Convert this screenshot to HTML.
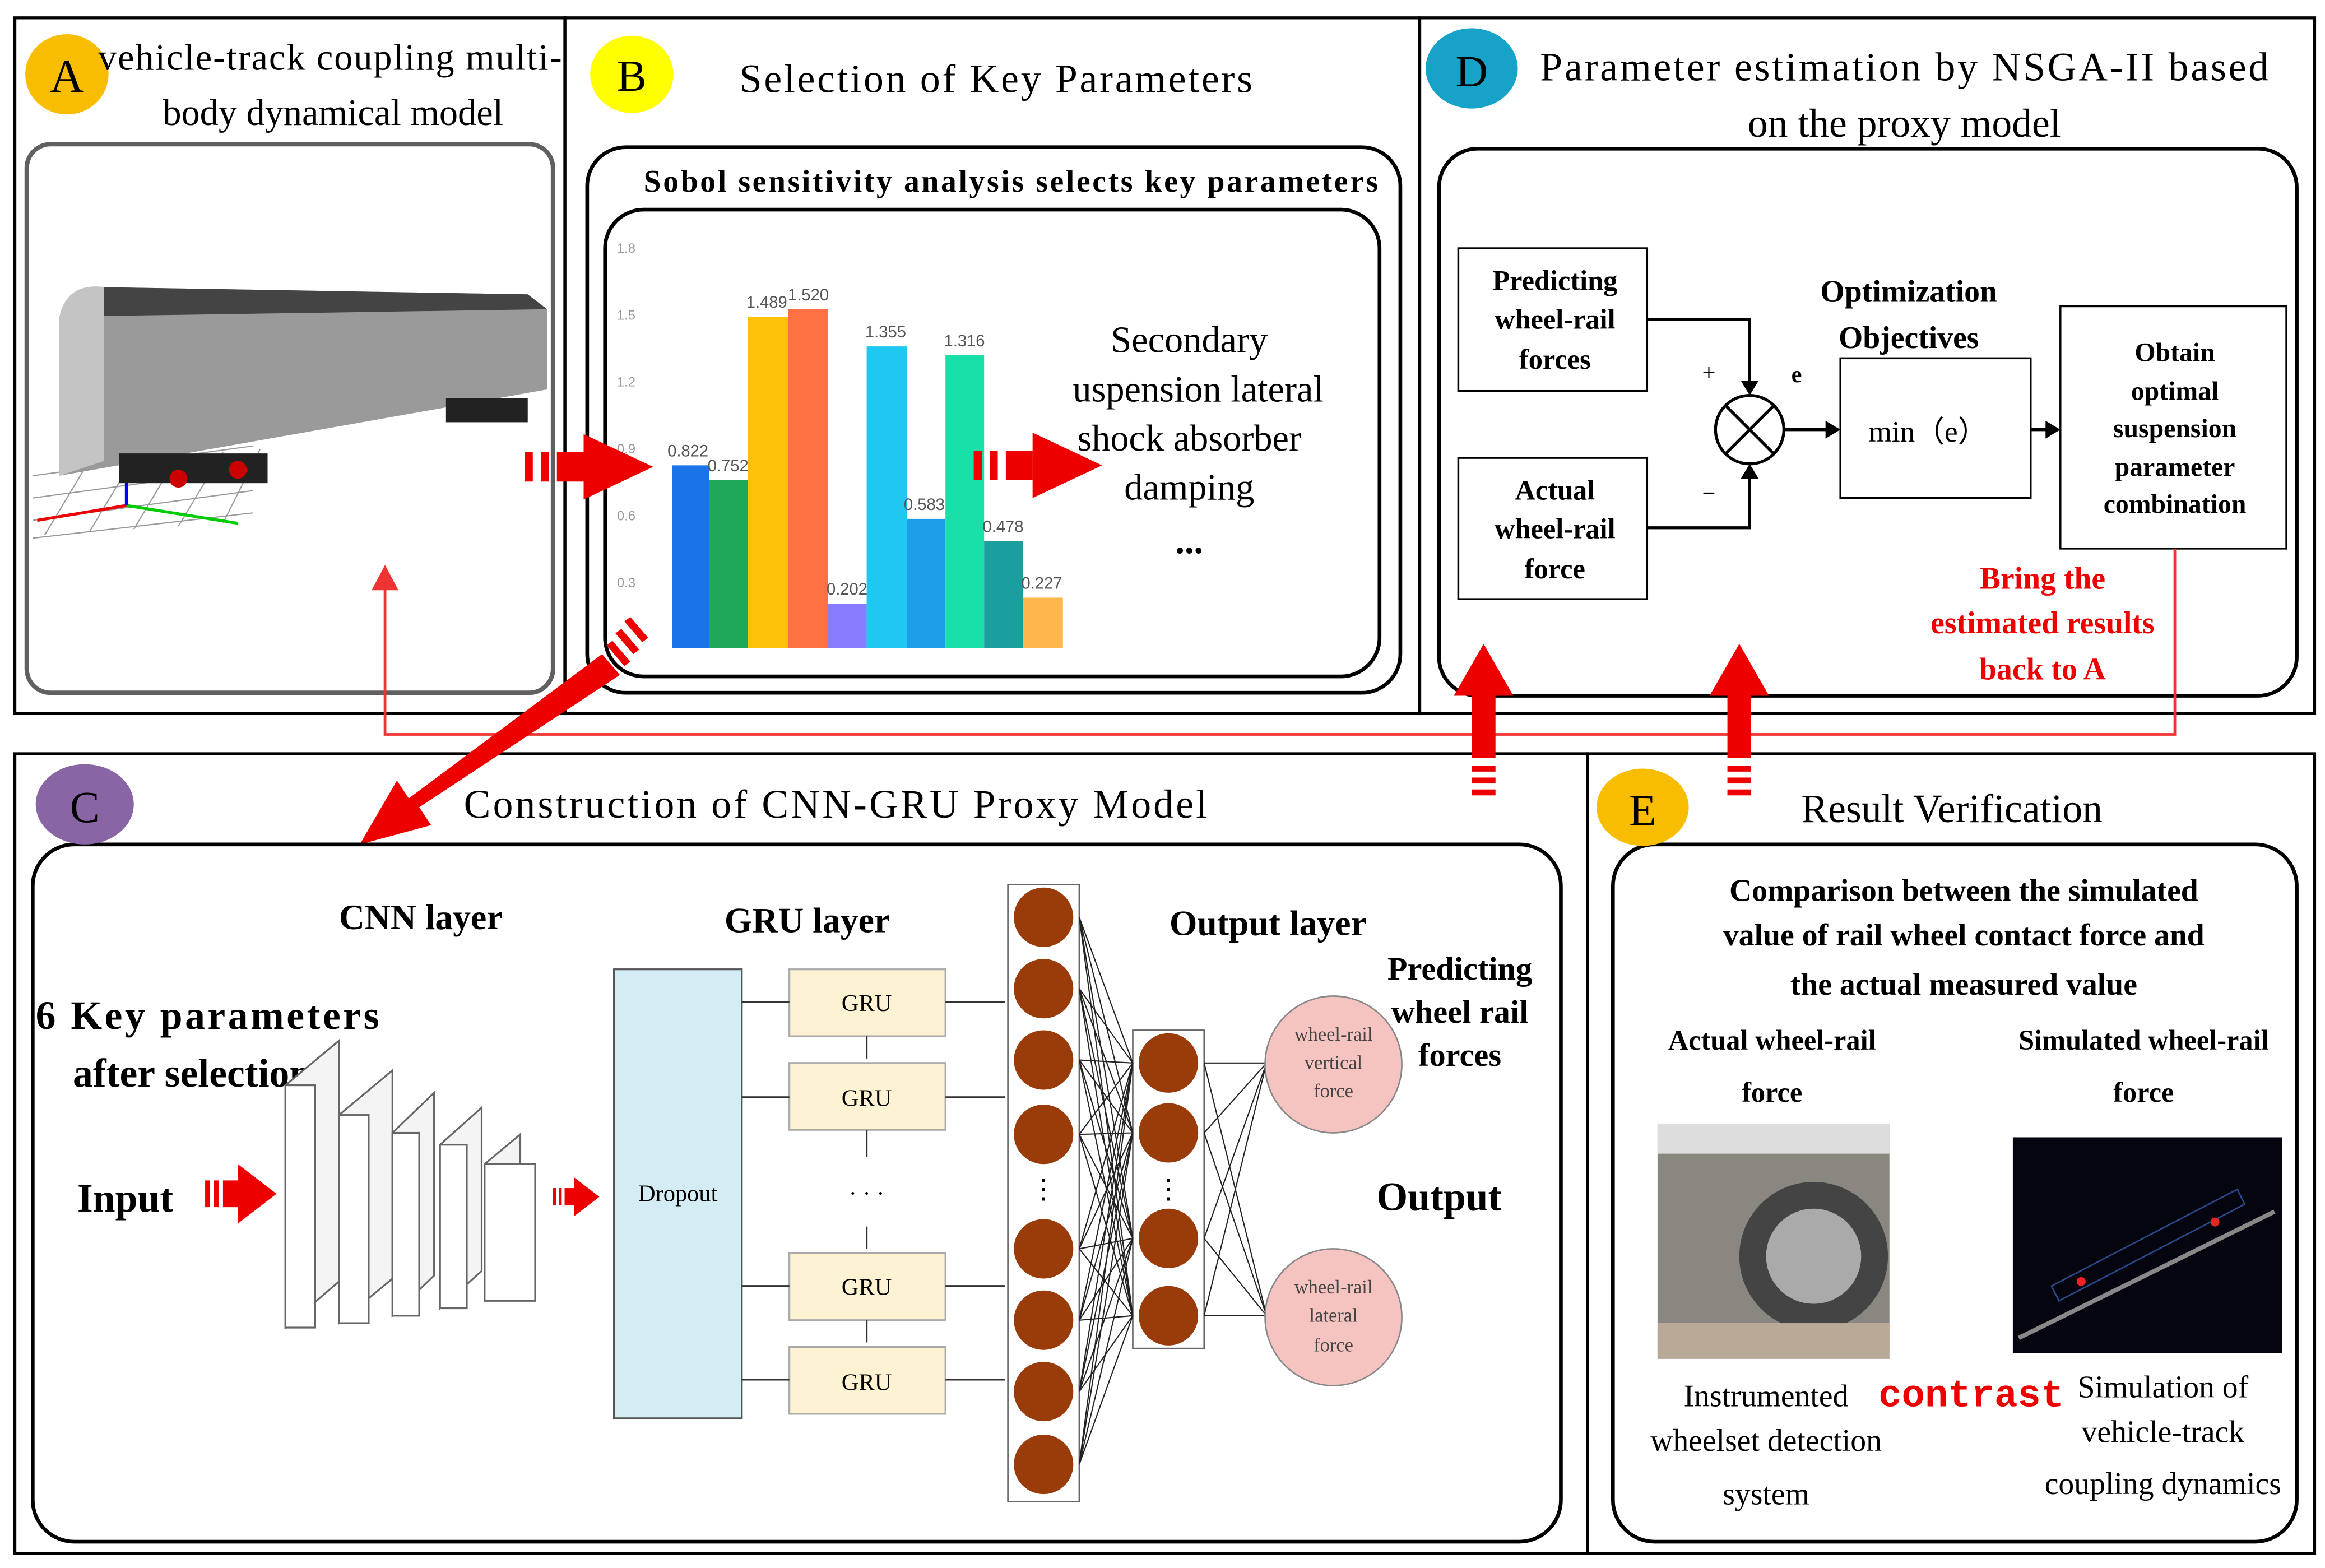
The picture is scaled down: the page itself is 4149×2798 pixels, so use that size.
<!DOCTYPE html>
<html><head><meta charset="utf-8"><style>
html,body{margin:0;padding:0;background:#fff;}
svg{display:block;}
</style></head><body>
<svg width="4149" height="2798" viewBox="0 0 1564 1054.7" preserveAspectRatio="none" xmlns="http://www.w3.org/2000/svg" font-family="Liberation Serif, serif">
<defs>
<g id="rarrow">
<rect x="0" y="-9" width="3" height="18" fill="#e00"/>
<rect x="6" y="-9" width="3" height="18" fill="#e00"/>
<rect x="12" y="-9" width="10" height="18" fill="#e00"/>
<polygon points="22,-20 48,0 22,20" fill="#e00"/>
</g>
</defs>
<rect width="1564" height="1055" fill="#fff"/>
<g fill="none" stroke="#000" stroke-width="2">
<rect x="10" y="12" width="370" height="468"/>
<rect x="380" y="12" width="575" height="468"/>
<rect x="955" y="12" width="602" height="468"/>
<rect x="10" y="507" width="1058" height="538"/>
<rect x="1068" y="507" width="489" height="538"/>
</g>
<!-- Panel A -->
<rect x="18" y="97" width="354" height="369" rx="16" fill="#fff" stroke="#606060" stroke-width="3"/>
<ellipse cx="45" cy="50" rx="28" ry="27" fill="#f9bd00"/>
<text x="45" y="62" font-size="32" text-anchor="middle">A</text>
<text x="222" y="47" font-size="25" text-anchor="middle" textLength="312">vehicle-track coupling multi-</text>
<text x="224" y="84" font-size="25" text-anchor="middle">body dynamical model</text>
<g stroke="#999" stroke-width="0.8">
<path d="M22,320 L170,300 M22,335 L170,315 M22,350 L170,330 M22,362 L170,345"/>
<path d="M30,360 L60,310 M60,358 L90,308 M90,356 L120,306 M120,354 L150,304 M150,352 L175,302"/>
</g>
<line x1="85" y1="340" x2="160" y2="352" stroke="#0c0" stroke-width="2"/>
<line x1="85" y1="340" x2="25" y2="350" stroke="#e00" stroke-width="2"/>
<line x1="85" y1="340" x2="85" y2="315" stroke="#00f" stroke-width="2"/>
<polygon points="60,193 355,198 368,208 368,262 40,320 40,213" fill="#9a9a9a"/>
<polygon points="60,193 355,198 368,208 40,213" fill="#444"/>
<path d="M40,213 Q45,190 70,193 L70,310 L40,320 Z" fill="#c4c4c4"/>
<rect x="80" y="305" width="100" height="20" fill="#222"/>
<rect x="300" y="268" width="55" height="16" fill="#222"/>
<circle cx="120" cy="322" r="6" fill="#c00"/><circle cx="160" cy="316" r="6" fill="#c00"/>
<!-- Panel B -->
<rect x="395" y="99" width="547" height="367" rx="26" fill="none" stroke="#000" stroke-width="2.5"/>
<rect x="407" y="141" width="521" height="314" rx="26" fill="none" stroke="#000" stroke-width="2.5"/>
<ellipse cx="425" cy="50" rx="28" ry="26" fill="#ffff00"/>
<text x="425" y="61" font-size="30" text-anchor="middle">B</text>
<text x="670" y="62" font-size="27" text-anchor="middle" textLength="345">Selection of Key Parameters</text>
<text x="680" y="129" font-size="21" font-weight="bold" text-anchor="middle" textLength="494">Sobol sensitivity analysis selects key parameters</text>
<g font-size="9" fill="#999" font-family="Liberation Sans, sans-serif">
<text x="415" y="170">1.8</text><text x="415" y="215">1.5</text><text x="415" y="260">1.2</text><text x="415" y="305">0.9</text><text x="415" y="350">0.6</text><text x="415" y="395">0.3</text>
</g>
<rect x="452" y="313" width="25" height="123" fill="#1a73e8"/>
<rect x="477" y="323" width="26" height="113" fill="#1fa855"/>
<rect x="503" y="213" width="27" height="223" fill="#ffc107"/>
<rect x="530" y="208" width="27" height="228" fill="#ff7043"/>
<rect x="557" y="406" width="26" height="30" fill="#8a7cff"/>
<rect x="583" y="233" width="27" height="203" fill="#1ec8f0"/>
<rect x="610" y="349" width="26" height="87" fill="#1e9ee8"/>
<rect x="636" y="239" width="26" height="197" fill="#18e0a8"/>
<rect x="662" y="364" width="26" height="72" fill="#1a9e9e"/>
<rect x="688" y="402" width="27" height="34" fill="#ffb74d"/>
<g font-size="11" fill="#555" font-family="Liberation Sans, sans-serif">
<text x="449" y="307">0.822</text><text x="476" y="317">0.752</text><text x="502" y="207">1.489</text><text x="530" y="202">1.520</text>
<text x="556" y="400">0.202</text><text x="582" y="227">1.355</text><text x="608" y="343">0.583</text><text x="635" y="233">1.316</text>
<text x="661" y="358">0.478</text><text x="687" y="396">0.227</text>
</g>
<g font-size="25" text-anchor="middle">
<text x="800" y="237">Secondary</text>
<text x="806" y="270">uspension lateral</text>
<text x="800" y="303">shock absorber</text>
<text x="800" y="336">damping</text>
<text x="800" y="372" font-weight="bold">...</text>
</g>
<g transform="translate(353,314) scale(1.8,1.1)"><use href="#rarrow"/></g>
<g transform="translate(655,313) scale(1.8,1.1)"><use href="#rarrow"/></g>
<!-- Panel D -->
<rect x="968" y="100" width="577" height="368" rx="26" fill="none" stroke="#000" stroke-width="2.5"/>
<ellipse cx="990" cy="46" rx="31" ry="27" fill="#17a3c8"/>
<text x="990" y="58" font-size="30" text-anchor="middle">D</text>
<text x="1281" y="54" font-size="27" text-anchor="middle" textLength="490">Parameter estimation by NSGA-II based</text>
<text x="1281" y="92" font-size="27" text-anchor="middle">on the proxy model</text>
<g fill="none" stroke="#000" stroke-width="1.3">
<rect x="981" y="167" width="127" height="96"/>
<rect x="981" y="308" width="127" height="95"/>
<rect x="1238" y="241" width="128" height="94"/>
<rect x="1386" y="206" width="152" height="163"/>
</g>
<g font-size="19" font-weight="bold" text-anchor="middle">
<text x="1046" y="195">Predicting</text><text x="1046" y="221">wheel-rail</text><text x="1046" y="248">forces</text>
<text x="1046" y="336">Actual</text><text x="1046" y="362">wheel-rail</text><text x="1046" y="389">force</text>
<text x="1284" y="203" font-size="21">Optimization</text><text x="1284" y="234" font-size="21">Objectives</text>
<text x="1463" y="243" font-size="18">Obtain</text><text x="1463" y="269" font-size="18">optimal</text><text x="1463" y="294" font-size="18">suspension</text><text x="1463" y="320" font-size="18">parameter</text><text x="1463" y="345" font-size="18">combination</text>
</g>
<text x="1297" y="297" font-size="20" text-anchor="middle">min（e）</text>
<circle cx="1177" cy="289" r="23" fill="#fff" stroke="#000" stroke-width="2"/>
<path d="M1161,273 L1193,305 M1193,273 L1161,305" stroke="#000" stroke-width="2"/>
<g stroke="#000" stroke-width="2" fill="none">
<path d="M1108,215 L1177,215 L1177,258"/>
<path d="M1108,355 L1177,355 L1177,320"/>
<line x1="1200" y1="289" x2="1230" y2="289"/>
<line x1="1366" y1="289" x2="1378" y2="289"/>
</g>
<polygon points="1171,256 1183,256 1177,266" fill="#000"/>
<polygon points="1171,322 1183,322 1177,312" fill="#000"/>
<polygon points="1228,283 1238,289 1228,295" fill="#000"/>
<polygon points="1376,283 1386,289 1376,295" fill="#000"/>
<text x="1145" y="256" font-size="16">+</text>
<text x="1205" y="257" font-size="16" font-weight="bold">e</text>
<text x="1145" y="337" font-size="16">−</text>
<g font-size="21" font-weight="bold" fill="#e00" text-anchor="middle">
<text x="1374" y="396">Bring the</text><text x="1374" y="426">estimated results</text><text x="1374" y="457">back to A</text>
</g>
<path d="M1463,369 L1463,494 L259,494 L259,395" fill="none" stroke="#e33" stroke-width="1.8"/>
<polygon points="250,397 259,380 268,397" fill="#e33"/>
<g fill="#e00">
<polygon points="978,468 998,433 1018,468 1006,468 1006,510 990,510 990,468"/>
<rect x="990" y="515" width="16" height="4"/><rect x="990" y="523" width="16" height="4"/><rect x="990" y="531" width="16" height="4"/>
<polygon points="1150,468 1170,433 1190,468 1178,468 1178,510 1162,510 1162,468"/>
<rect x="1162" y="515" width="16" height="4"/><rect x="1162" y="523" width="16" height="4"/><rect x="1162" y="531" width="16" height="4"/>
</g>
<g fill="#e00">
<polygon points="405,440 417,454 282,543 290,555 242,568 267,525 275,537"/>
<polygon points="412,431 424,445 420,448 408,434"/>
<polygon points="418,423 430,437 426,440 414,426"/>
<polygon points="424,415 436,429 432,432 420,418"/>
</g>
<!-- Panel C -->
<rect x="22" y="568" width="1028" height="469" rx="28" fill="none" stroke="#000" stroke-width="2.5"/>
<ellipse cx="57" cy="541" rx="33" ry="27" fill="#8a65a6"/>
<text x="57" y="553" font-size="30" text-anchor="middle">C</text>
<text x="562" y="550" font-size="27" text-anchor="middle" textLength="500">Construction of CNN-GRU Proxy Model</text>
<g font-weight="bold">
<text x="283" y="625" font-size="24" text-anchor="middle">CNN layer</text>
<text x="543" y="627" font-size="24" text-anchor="middle">GRU  layer</text>
<text x="853" y="629" font-size="24" text-anchor="middle">Output layer</text>
<text x="24" y="692" font-size="27" textLength="231">6 Key parameters</text>
<text x="49" y="731" font-size="27">after selection</text>
<text x="52" y="815" font-size="27">Input</text>
<text x="982" y="659" font-size="22" text-anchor="middle">Predicting</text>
<text x="982" y="688" font-size="22" text-anchor="middle">wheel rail</text>
<text x="982" y="717" font-size="22" text-anchor="middle">forces</text>
<text x="968" y="814" font-size="27" text-anchor="middle">Output</text>
</g>
<use href="#rarrow" x="138" y="803"/>
<g transform="translate(372,805) scale(0.65)"><use href="#rarrow"/></g>
<g fill="#f4f4f4" stroke="#666" stroke-width="1.2">
<polygon points="192,730 228,700 228,862 192,893"/>
<polygon points="228,750 264,720 264,860 228,890"/>
<polygon points="264,762 292,735 292,858 264,885"/>
<polygon points="296,770 324,745 324,855 296,880"/>
<polygon points="326,783 350,763 350,857 326,875"/>
</g>
<g fill="#fff" stroke="#666" stroke-width="1.2">
<rect x="192" y="730" width="20" height="163"/>
<rect x="228" y="750" width="20" height="140"/>
<rect x="264" y="762" width="18" height="123"/>
<rect x="296" y="770" width="18" height="110"/>
<rect x="326" y="783" width="34" height="92"/>
</g>
<rect x="413" y="652" width="86" height="302" fill="#d4ecf4" stroke="#555" stroke-width="1.2"/>
<text x="456" y="808" font-size="16" text-anchor="middle">Dropout</text>
<g fill="#fdf3d2" stroke="#aaa" stroke-width="1.2">
<rect x="531" y="652" width="105" height="45"/>
<rect x="531" y="715" width="105" height="45"/>
<rect x="531" y="843" width="105" height="45"/>
<rect x="531" y="906" width="105" height="45"/>
</g>
<g font-size="16" text-anchor="middle">
<text x="583" y="680">GRU</text><text x="583" y="744">GRU</text><text x="583" y="871">GRU</text><text x="583" y="935">GRU</text>
<text x="583" y="808">· · ·</text>
</g>
<g stroke="#333" stroke-width="1.2" fill="none">
<path d="M499,674 L531,674 M499,738 L531,738 M499,865 L531,865 M499,928 L531,928"/>
<path d="M636,674 L676,674 M636,738 L676,738 M636,865 L676,865 M636,928 L676,928"/>
<path d="M583,697 L583,712 M583,760 L583,778 M583,825 L583,840 M583,888 L583,903"/>
</g>
<rect x="678" y="595" width="48" height="415" fill="none" stroke="#666"/>
<rect x="762" y="693" width="48" height="214" fill="none" stroke="#666"/>
<g stroke="#222" stroke-width="0.8">
<path d="M726,617 L762,715 M726,617 L762,762 M726,617 L762,833 M726,617 L762,885
M726,665 L762,715 M726,665 L762,762 M726,665 L762,833 M726,665 L762,885
M726,713 L762,715 M726,713 L762,762 M726,713 L762,833 M726,713 L762,885
M726,763 L762,715 M726,763 L762,762 M726,763 L762,833 M726,763 L762,885
M726,840 L762,715 M726,840 L762,762 M726,840 L762,833 M726,840 L762,885
M726,888 L762,715 M726,888 L762,762 M726,888 L762,833 M726,888 L762,885
M726,936 L762,715 M726,936 L762,762 M726,936 L762,833 M726,936 L762,885
M726,985 L762,715 M726,985 L762,762 M726,985 L762,833 M726,985 L762,885
M810,715 L852,715 M810,715 L852,885 M810,762 L852,715 M810,762 L852,885
M810,833 L852,715 M810,833 L852,885 M810,885 L852,715 M810,885 L852,885"/>
</g>
<g fill="#9a3c0a">
<circle cx="702" cy="617" r="20"/><circle cx="702" cy="665" r="20"/><circle cx="702" cy="713" r="20"/><circle cx="702" cy="763" r="20"/>
<circle cx="702" cy="840" r="20"/><circle cx="702" cy="888" r="20"/><circle cx="702" cy="936" r="20"/><circle cx="702" cy="985" r="20"/>
<circle cx="786" cy="715" r="20"/><circle cx="786" cy="762" r="20"/><circle cx="786" cy="833" r="20"/><circle cx="786" cy="885" r="20"/>
</g>
<text x="702" y="806" font-size="18" text-anchor="middle">⋮</text>
<text x="786" y="806" font-size="18" text-anchor="middle">⋮</text>
<circle cx="897" cy="716" r="46" fill="#f5c3c0" stroke="#888"/>
<circle cx="897" cy="886" r="46" fill="#f5c3c0" stroke="#888"/>
<g font-size="13" text-anchor="middle" fill="#444">
<text x="897" y="700">wheel-rail</text><text x="897" y="719">vertical</text><text x="897" y="738">force</text>
<text x="897" y="870">wheel-rail</text><text x="897" y="889">lateral</text><text x="897" y="909">force</text>
</g>
<!-- Panel E -->
<rect x="1085" y="568" width="460" height="469" rx="28" fill="none" stroke="#000" stroke-width="2.5"/>
<ellipse cx="1105" cy="543" rx="31" ry="26" fill="#f9bd00"/>
<text x="1105" y="555" font-size="30" text-anchor="middle">E</text>
<text x="1313" y="553" font-size="27" text-anchor="middle">Result Verification</text>
<g font-weight="bold" text-anchor="middle">
<text x="1321" y="606" font-size="21">Comparison between the simulated</text>
<text x="1321" y="636" font-size="21">value of rail wheel contact force and</text>
<text x="1321" y="669" font-size="21">the actual measured value</text>
<text x="1192" y="706" font-size="19">Actual wheel-rail</text>
<text x="1192" y="741" font-size="19">force</text>
<text x="1442" y="706" font-size="19">Simulated wheel-rail</text>
<text x="1442" y="741" font-size="19">force</text>
</g>
<rect x="1115" y="756" width="156" height="158" fill="#8a8680"/>
<rect x="1115" y="756" width="156" height="20" fill="#ddd"/>
<circle cx="1220" cy="845" r="50" fill="#444"/><circle cx="1220" cy="845" r="32" fill="#aaa"/>
<rect x="1115" y="890" width="156" height="24" fill="#b9aa98"/>
<rect x="1354" y="765" width="181" height="145" fill="#050510"/>
<polygon points="1380,865 1505,800 1510,810 1385,875" fill="none" stroke="#2a4a8a"/>
<path d="M1358,900 L1530,815" stroke="#888" stroke-width="3"/>
<circle cx="1400" cy="862" r="3" fill="#e22"/><circle cx="1490" cy="822" r="3" fill="#e22"/>
<g font-size="21" text-anchor="middle">
<text x="1188" y="946">Instrumented</text><text x="1188" y="976">wheelset detection</text><text x="1188" y="1012">system</text>
<text x="1455" y="940">Simulation of</text><text x="1455" y="970">vehicle-track</text><text x="1455" y="1005">coupling dynamics</text>
</g>
<text x="1326" y="946" font-size="26" fill="#e00" text-anchor="middle" font-family="Liberation Mono, monospace" font-weight="bold">contrast</text>
</svg>
</body></html>
